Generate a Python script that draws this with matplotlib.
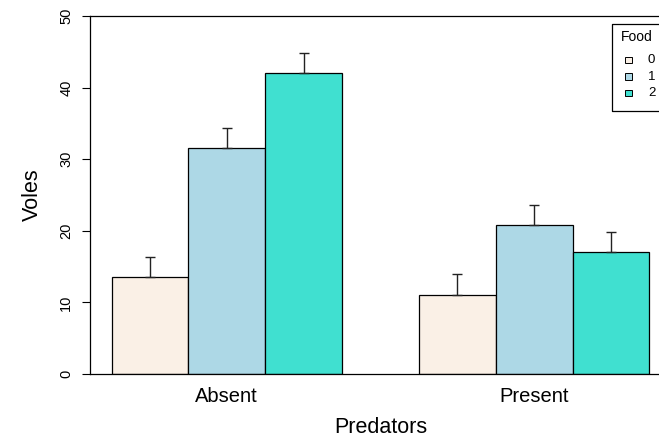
import matplotlib
matplotlib.use("Agg")
import matplotlib.pyplot as plt
from matplotlib.patches import Rectangle
from matplotlib.lines import Line2D
import numpy as np

plt.rcParams['font.family'] = ['Liberation Sans', 'DejaVu Sans']

predators = ["Absent", "Present"]
food = ["0", "1", "2"]
voles_absent = [13.5, 31.5, 42.0]
voles_present = [11.0, 20.8, 17.0]
se_absent = [2.9, 2.8, 2.8]
se_present = [2.9, 2.8, 2.8]
colors = ["#FAF0E6", "#ADD8E6", "#40E0D0"]
yticks = [0, 10, 20, 30, 40, 50]

W, H = 659, 441
fig = plt.figure(figsize=(W / 100, H / 100), dpi=100)
ax = fig.add_axes([90 / W, 67 / H, 581 / W, 358 / H])

values = [voles_absent, voles_present]
ses = [se_absent, se_present]
centers = []
for g in range(len(predators)):
    for k in range(len(food)):
        x = 1 + g * (len(food) + 1) + k + 0.5
        ax.bar(x, values[g][k], width=1.0, color=colors[k], edgecolor="black",
               linewidth=0.9, zorder=2)
        ax.errorbar(x, values[g][k], yerr=[[0], [ses[g][k]]], fmt="none",
                    ecolor="#222222", elinewidth=1.0, capsize=3.6, capthick=1.0,
                    zorder=3)
    centers.append(1 + g * (len(food) + 1) + len(food) / 2)

ax.set_xlim(0.72, 8.28)
ax.set_ylim(0, 50)
ax.set_xticks(centers)
ax.set_xticklabels(predators, fontsize=14.5)
ax.tick_params(axis="x", length=0, pad=9)
ax.set_yticks(yticks)
ax.set_yticklabels([str(t) for t in yticks], fontsize=10.5, rotation=90, va="center")
ax.tick_params(axis="y", length=6, width=0.8, pad=6)
for s in ["top", "bottom", "left"]:
    ax.spines[s].set_linewidth(0.9)
ax.spines["right"].set_visible(False)
ax.set_xlabel("Predators", fontsize=15.5, labelpad=8)
ax.set_ylabel("Voles", fontsize=15.5, labelpad=12)

# legend (manual, R style; box runs off the right edge)
def fx(p):
    return p / W

def fy(p):
    return 1 - p / H

fig.patches.append(Rectangle((fx(612), fy(111)), fx(60), (111 - 24) / H,
                             transform=fig.transFigure, facecolor="white",
                             edgecolor="none"))
lx = [fx(700), fx(612), fx(612), fx(700)]
ly = [fy(24), fy(24), fy(111), fy(111)]
fig.add_artist(Line2D(lx, ly, transform=fig.transFigure, color="black",
                      linewidth=0.9))
fig.text(fx(637), fy(37), "Food", ha="center", va="center", fontsize=10)
ys = [60, 76.5, 93]
for k, lab in enumerate(food):
    fig.patches.append(Rectangle((fx(625), fy(ys[k] + 3)), fx(6.5), 6.5 / H,
                                 transform=fig.transFigure, facecolor=colors[k],
                                 edgecolor="black", linewidth=0.7))
    fig.text(fx(648), fy(ys[k]), lab, ha="left", va="center", fontsize=9.5)

fig.savefig("out.png", dpi=100)
